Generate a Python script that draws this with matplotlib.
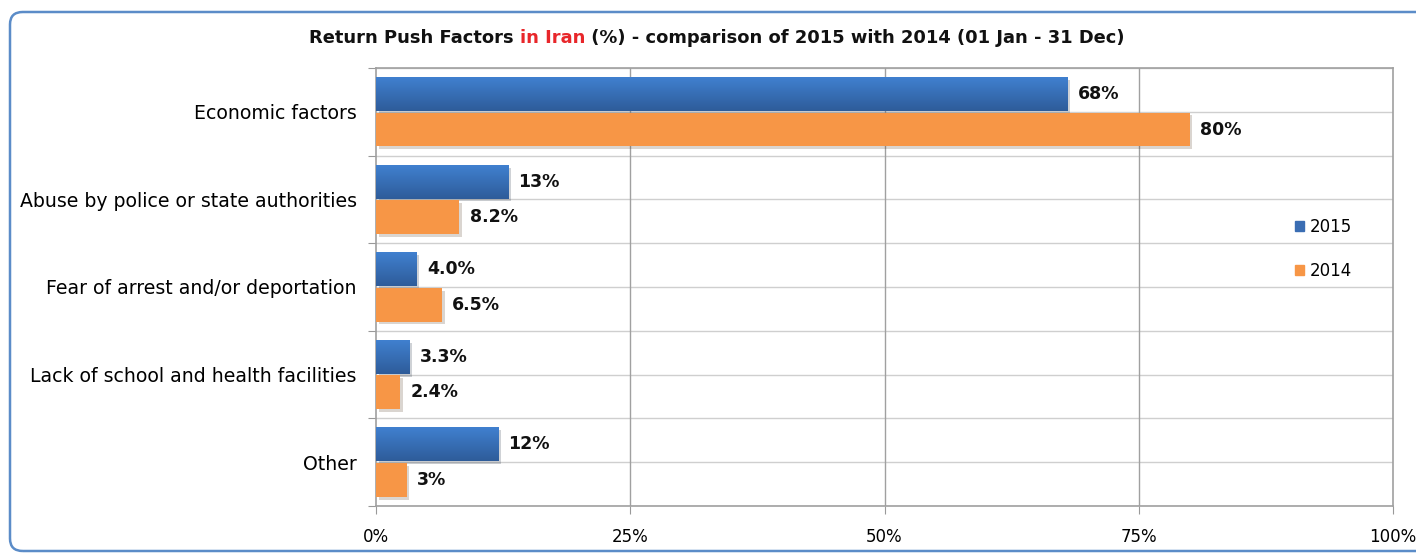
import numpy as np
import matplotlib.pyplot as plt
import matplotlib.patheffects as pe
from matplotlib.patches import FancyBboxPatch, Patch
from matplotlib.colors import LinearSegmentedColormap

categories = ["Economic factors", "Abuse by police or state authorities",
              "Fear of arrest and/or deportation",
              "Lack of school and health facilities", "Other"]
vals_2015 = [68, 13, 4.0, 3.3, 12]
vals_2014 = [80, 8.2, 6.5, 2.4, 3]
labels_2015 = ["68%", "13%", "4.0%", "3.3%", "12%"]
labels_2014 = ["80%", "8.2%", "6.5%", "2.4%", "3%"]
xticks = [0, 25, 50, 75, 100]

blue = "#3a6db3"
orange = "#f79646"
font = "DejaVu Sans"

fig = plt.figure(figsize=(14.16, 5.54), dpi=100)
fig.patch.set_facecolor("white")

# rounded frame, open on the right where it runs off the page
frame = FancyBboxPatch((10 / 1416, 3 / 554), 1430 / 1416, 539 / 554,
                       boxstyle="round,pad=0,rounding_size=0.009",
                       transform=fig.transFigure, fill=False,
                       edgecolor="#5b8cc8", linewidth=1.8, mutation_aspect=2.5)
fig.patches.append(frame)

ax = fig.add_axes([376 / 1416, 48 / 554, 1017 / 1416, 438 / 554])

y = np.arange(len(categories))
h = 0.385
shadow = [pe.SimplePatchShadow(offset=(2, -2), alpha=0.2), pe.Normal()]
b15 = ax.barh(y - h / 2 - 0.01, vals_2015, height=h, color=blue, zorder=3,
              path_effects=shadow)
b14 = ax.barh(y + h / 2 + 0.01, vals_2014, height=h, color=orange, zorder=3,
              path_effects=shadow)

# vertical shading on the blue bars, lighter on top
cmap = LinearSegmentedColormap.from_list("bl", ["#4080cf", "#2e5c9a"])
grad = np.linspace(0, 1, 50).reshape(-1, 1)
for p in b15:
    x0, y0 = p.get_x(), p.get_y()
    ax.imshow(grad, extent=[x0, x0 + p.get_width(), y0 + p.get_height(), y0],
              cmap=cmap, aspect="auto", zorder=3.5)

for bars, labels in ((b15, labels_2015), (b14, labels_2014)):
    for p, t in zip(bars, labels):
        ax.text(p.get_width() + 1.0, p.get_y() + p.get_height() / 2, t,
                va="center", ha="left", fontsize=12.5, fontweight="bold",
                family=font, color="#111111")

ax.set_xlim(0, 100)
ax.set_ylim(len(categories) - 0.5, -0.5)
ax.set_xticks(xticks)
ax.set_xticklabels([f"{v}%" for v in xticks], fontsize=12, family=font)

# tick marks on group boundaries, labels at group centres
ax.set_yticks(np.arange(len(categories) + 1) - 0.5)
ax.set_yticklabels([])
ax.set_yticks(y, minor=True)
ax.set_yticklabels(categories, minor=True, fontsize=13.6, family=font)
ax.tick_params(axis="y", which="major", length=6, color="#999999")
ax.tick_params(axis="y", which="minor", length=0, pad=14)
ax.tick_params(axis="x", length=6, color="#999999", pad=10)

for yy in np.arange(-0.5, len(categories), 0.5):
    ax.axhline(yy, color="#cfcfcf", linewidth=1, zorder=1)
for xx in xticks[1:-1]:
    ax.axvline(xx, color="#a0a0a0", linewidth=1, zorder=1)
for s in ax.spines.values():
    s.set_color("#a0a0a0")
    s.set_linewidth(1.2)

handles = [Patch(color=blue, label="2015"), Patch(color=orange, label="2014")]
ax.legend(handles=handles, loc="center left",
          bbox_to_anchor=(0.889, 0.587), frameon=False,
          prop={"family": font, "size": 12}, handlelength=0.55,
          handleheight=0.55, handletextpad=0.3, labelspacing=1.55)

# title with a red part
title_parts = [("Return Push Factors ", "#111111"), ("in Iran", "#e8262a"),
               (" (%) - comparison of 2015 with 2014 (01 Jan - 31 Dec)", "#111111")]
fig.canvas.draw()
r = fig.canvas.get_renderer()
texts = []
for s, c in title_parts:
    texts.append(fig.text(0, 516 / 554, s, color=c, fontsize=12.85,
                          fontweight="bold", family=font, va="center"))
widths = [t.get_window_extent(r).width for t in texts]
x = 717 - sum(widths) / 2
for t, w in zip(texts, widths):
    t.set_x(x / 1416)
    x += w

fig.savefig("out.png", dpi=100)
